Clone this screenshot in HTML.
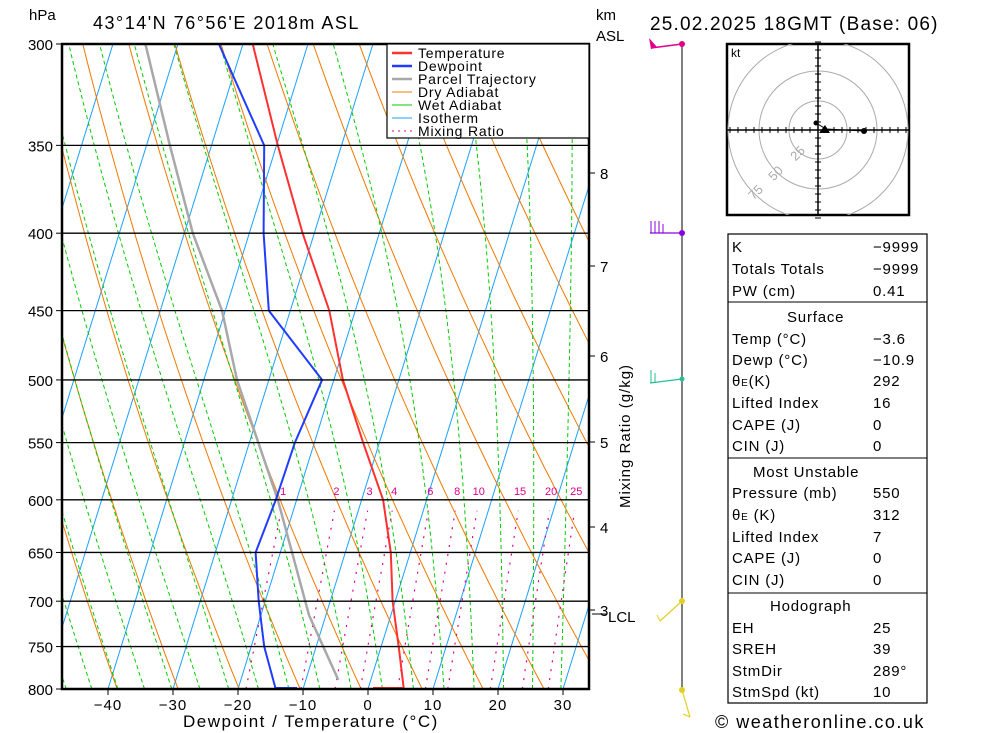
<!DOCTYPE html>
<html><head><meta charset="utf-8"><style>
body{margin:0;background:#fff;width:1000px;height:733px;overflow:hidden}
svg{display:block;font-family:"Liberation Sans",sans-serif}
</style></head><body>
<svg id="s" width="1000" height="733" viewBox="0 0 1000 733">
<defs><clipPath id="pc"><rect x="62" y="44" width="527" height="645"/></clipPath></defs>
<g id="bg" clip-path="url(#pc)"></g>
<g id="prof" clip-path="url(#pc)"></g>
<g id="ax"></g>
</svg>
<script>
// ---- data ----
const pressures=[800,750,700,650,600,550,500,450,400,350,300];
const tempC=[5.5,2.7,-0.4,-3.0,-6.7,-12.5,-18.6,-24.0,-31.8,-39.8,-48.5];
const dewC=[-14.2,-18.0,-21.0,-23.8,-23.2,-23.0,-21.8,-33.3,-37.8,-41.9,-53.7];
const parcelP=[789,715,600,500,450,400,350,300];
const parcelC=[-5.0,-12.6,-22.9,-34.9,-40.5,-48.7,-56.4,-65.0];
const pTicks=[300,350,400,450,500,550,600,650,700,750,800];
const tTicks=[-40,-30,-20,-10,0,10,20,30];
const mixRatios=[1,2,3,4,6,8,10,15,20,25];
const kmTicks=[[8,173],[7,266],[6,356],[5,442],[4,527],[3,610]];
// ---- axes functions ----
const NS='http://www.w3.org/2000/svg';
const X0=368,PX=6.5,SK=0.31,YB=689,YT=44;
function yP(p){return YT+645*Math.log(p/300)/Math.log(800/300);}
function xT(t,p){return X0+PX*t+SK*(YB-yP(p));}
function el(tag,attrs,parent,txt){const e=document.createElementNS(NS,tag);for(const k in attrs)e.setAttribute(k,attrs[k]);if(txt!==undefined)e.textContent=txt;parent.appendChild(e);return e;}
const bg=document.getElementById('bg'),pr=document.getElementById('prof'),ax=document.getElementById('ax'),S=document.getElementById('s');
function poly(pts){return pts.map(a=>a[0].toFixed(1)+','+a[1].toFixed(1)).join(' ');}
// isotherms
for(let t=-120;t<=40;t+=10){const l=el('line',{x1:xT(t,800),y1:YB,x2:xT(t,300),y2:YT,stroke:'#1aa0ff','stroke-width':1},bg);
}
// dry adiabats
for(let th=230;th<=480;th+=10){const pts=[];for(let p=800;p>=300;p-=10){const T=th*Math.pow(p/1000,0.2857)-273.15;pts.push([xT(T,p),yP(p)]);}
const l=el('polyline',{points:poly(pts),fill:'none',stroke:'#f07800','stroke-width':1},bg);
}
// wet adiabats
function es(T){return 6.112*Math.exp(17.67*T/(T+243.5));}
for(let tw=-36;tw<=40;tw+=4){let T=tw+273.15,p=1000;const pts=[];
 while(p>=300){if(p<=800)pts.push([xT(T-273.15,p),yP(p)]);
  const rs=0.622*es(T-273.15)/(p-es(T-273.15));const Lv=2.5e6,Rd=287,cp=1004;
  const dTdp=(1/p)*(Rd*T+Lv*rs)/(cp+Lv*Lv*rs*0.622/(Rd*T*T));T-=dTdp*5;p-=5;}
 const l=el('polyline',{points:poly(pts),fill:'none',stroke:'#00cc00','stroke-width':1,'stroke-dasharray':'4,3'},bg);
 }
// mixing ratio
function tdw(w,p){const e=w*p/(622+w);const a=Math.log(e/6.112);return 243.5*a/(17.67-a)+0.9+0.09*w;}
mixRatios.forEach(w=>{const pts=[];for(let p=800;p>=605;p-=10)pts.push([xT(tdw(w,p),p),yP(p)]);
 const l=el('polyline',{points:poly(pts),fill:'none',stroke:'#e0008a','stroke-width':1.2,'stroke-dasharray':'2,7'},bg);
 
 const t=el('text',{x:xT(tdw(w,600),600),y:yP(600)-5,'font-size':11,fill:'#e0008a','text-anchor':'middle'},ax,String(w));
 });
// isobars
pTicks.forEach(p=>{const l=el('line',{x1:62,x2:589,y1:yP(p),y2:yP(p),stroke:'#000','stroke-width':1.3},ax);
 
 el('line',{x1:56,x2:62,y1:yP(p),y2:yP(p),stroke:'#000'},ax);
 const t=el('text',{x:53,y:yP(p)+6,'font-size':15,'text-anchor':'end'},ax,String(p));
 });
// profiles
function prof(P,T,col,w,name){const l=el('polyline',{points:poly(P.map((p,i)=>[xT(T[i],p),yP(p)])),fill:'none',stroke:col,'stroke-width':w},pr);
 }
prof(parcelP,parcelC,'#a8a8a8',2.5,'parcel-trajectory');
prof(pressures,dewC,'#1f3cff',2,'dewpoint-line');
prof(pressures,tempC,'#ff3030',2,'temperature-line');
el('line',{x1:373,x2:xT(tempC[0],800),y1:688,y2:688,stroke:'#ff3030','stroke-width':2},pr);
el('line',{x1:xT(dewC[0],800),x2:297,y1:688,y2:688,stroke:'#1f3cff','stroke-width':2},pr);
// frame
el('rect',{x:62,y:44,width:527,height:645,fill:'none',stroke:'#000','stroke-width':2.5},ax);
el('line',{x1:589,x2:589,y1:44,y2:689,stroke:'#000','stroke-width':1.5},ax);
tTicks.forEach(t=>{const x=X0+PX*t;el('line',{x1:x,x2:x,y1:689,y2:695,stroke:'#000'},ax);
 const s=el('text',{x:x,y:710,'font-size':15,'text-anchor':'middle','letter-spacing':1},ax,(t<0?'\u2212':'')+Math.abs(t));
 });
kmTicks.forEach(k=>{el('line',{x1:589,x2:595,y1:k[1],y2:k[1],stroke:'#000'},ax);
 const s=el('text',{x:600,y:k[1]+6,'font-size':15},ax,String(k[0]));});
</script>
<svg width="1000" height="733" style="position:absolute;left:0;top:0;font-family:'Liberation Sans',sans-serif">
<text x="29" y="20" font-size="15">hPa</text>
<text x="93" y="29" font-size="18" letter-spacing="1.5">43°14'N  76°56'E  2018m  ASL</text>
<text x="596" y="20" font-size="15">km</text>
<text x="596" y="41" font-size="15">ASL</text>
<text x="650" y="30" font-size="19" letter-spacing="1.2">25.02.2025  18GMT  (Base: 06)</text>
<text x="608" y="622" font-size="15">LCL</text>
<line x1="592" y1="614" x2="606" y2="614" stroke="#000"/>
<text x="183" y="727" font-size="17" letter-spacing="1.5">Dewpoint / Temperature (°C)</text>
<text x="630" y="508" font-size="15" letter-spacing="1" transform="rotate(-90 630 508)">Mixing Ratio (g/kg)</text>
<g>
<rect x="387" y="44" width="202" height="94" fill="#fff" stroke="#000" stroke-width="1.2"/>
<g font-size="14" letter-spacing="0.8">
<line x1="392" x2="412" y1="53" y2="53" stroke="#ff3030" stroke-width="2.5"/><text x="418" y="58">Temperature</text>
<line x1="392" x2="412" y1="66" y2="66" stroke="#1f3cff" stroke-width="2.5"/><text x="418" y="71">Dewpoint</text>
<line x1="392" x2="412" y1="79" y2="79" stroke="#a8a8a8" stroke-width="2.5"/><text x="418" y="84">Parcel Trajectory</text>
<line x1="392" x2="412" y1="92" y2="92" stroke="#f07800"/><text x="418" y="97">Dry Adiabat</text>
<line x1="392" x2="412" y1="105" y2="105" stroke="#00cc00"/><text x="418" y="110">Wet Adiabat</text>
<line x1="392" x2="412" y1="118" y2="118" stroke="#1aa0ff"/><text x="418" y="123">Isotherm</text>
<line x1="392" x2="412" y1="131" y2="131" stroke="#e0008a" stroke-dasharray="2,4"/><text x="418" y="136">Mixing Ratio</text>
</g></g>
<g>
<line x1="682" y1="44" x2="682" y2="689" stroke="#000"/>
<line x1="682" y1="44" x2="651" y2="48" stroke="#e0008a" stroke-width="1.5"/><polygon points="649,38 651,49 657,47" fill="#e0008a"/><circle cx="682" cy="44" r="3" fill="#e0008a"/>
<line x1="682" y1="233" x2="650" y2="233" stroke="#8a00e0" stroke-width="1.2"/><path d="M651 233V221M655 233V221M659 233V221M663 233V224" stroke="#8a00e0"/><circle cx="682" cy="233" r="3" fill="#8a00e0"/>
<line x1="682" y1="379" x2="650" y2="383" stroke="#20c090" stroke-width="1.2"/><path d="M651 383V370M655 383V373" stroke="#20c090"/><circle cx="682" cy="379" r="2.5" fill="#20c090"/>
<line x1="682" y1="601" x2="660" y2="621" stroke="#e0d020" stroke-width="1.2"/><path d="M660 621l-3-6" stroke="#e0d020"/><circle cx="682" cy="601" r="3" fill="#e0d020"/>
<line x1="682" y1="690" x2="690" y2="717" stroke="#e0d020" stroke-width="1.2"/><path d="M690 717l-7 -3" stroke="#e0d020"/><circle cx="682" cy="690" r="3" fill="#e0d020"/>
</g>
<g>
<rect x="727" y="44" width="182" height="171" fill="#fff" stroke="#000" stroke-width="2.5"/>
<g fill="none" stroke="#aaa"><circle cx="818" cy="130" r="29"/><circle cx="818" cy="130" r="59"/><circle cx="818" cy="130" r="90" clip-path="url(#hc)"/></g>
<clipPath id="hc"><rect x="727" y="44" width="182" height="171"/></clipPath>
<line x1="727" x2="909" y1="130" y2="130" stroke="#000" stroke-width="1.5"/><line x1="818" x2="818" y1="44" y2="215" stroke="#000" stroke-width="1.5"/>
<path id="ht" stroke="#000" d=""/>
<text x="731" y="57" font-size="12">kt</text>
<g fill="#aaa" font-size="13"><text x="790" y="158" transform="rotate(-45 797 153)">25</text><text x="768" y="178" transform="rotate(-45 775 173)">50</text><text x="748" y="197" transform="rotate(-45 755 192)">75</text></g>
<polyline points="816,123 826,129 864,131" fill="none" stroke="#000"/><circle cx="816" cy="123" r="2.5"/><circle cx="864" cy="131" r="3"/><polygon points="819,133 825,125 830,133" fill="#000"/>
</g>
<g font-size="15" letter-spacing="0.8">
<rect x="728" y="234" width="199" height="469" fill="none" stroke="#000" stroke-width="1.2"/>
<line x1="728" x2="927" y1="302" y2="302" stroke="#000"/><line x1="728" x2="927" y1="458" y2="458" stroke="#000"/><line x1="728" x2="927" y1="593" y2="593" stroke="#000"/>
<text x="732" y="252">K</text><text x="873" y="252">−9999</text>
<text x="732" y="274">Totals Totals</text><text x="873" y="274">−9999</text>
<text x="732" y="296">PW (cm)</text><text x="873" y="296">0.41</text>
<text x="787" y="322">Surface</text>
<text x="732" y="344">Temp (°C)</text><text x="873" y="344">−3.6</text>
<text x="732" y="365">Dewp (°C)</text><text x="873" y="365">−10.9</text>
<text x="732" y="386">θ<tspan font-size="10">E</tspan>(K)</text><text x="873" y="386">292</text>
<text x="732" y="408">Lifted Index</text><text x="873" y="408">16</text>
<text x="732" y="430">CAPE (J)</text><text x="873" y="430">0</text>
<text x="732" y="451">CIN (J)</text><text x="873" y="451">0</text>
<text x="753" y="477">Most Unstable</text>
<text x="732" y="498">Pressure (mb)</text><text x="873" y="498">550</text>
<text x="732" y="520">θ<tspan font-size="10">E</tspan> (K)</text><text x="873" y="520">312</text>
<text x="732" y="542">Lifted Index</text><text x="873" y="542">7</text>
<text x="732" y="563">CAPE (J)</text><text x="873" y="563">0</text>
<text x="732" y="585">CIN (J)</text><text x="873" y="585">0</text>
<text x="770" y="611">Hodograph</text>
<text x="732" y="633">EH</text><text x="873" y="633">25</text>
<text x="732" y="654">SREH</text><text x="873" y="654">39</text>
<text x="732" y="676">StmDir</text><text x="873" y="676">289°</text>
<text x="732" y="697">StmSpd (kt)</text><text x="873" y="697">10</text>
</g>
<text x="715" y="728" font-size="18" letter-spacing="1.5">© weatheronline.co.uk</text>
</svg>
<script>
let d='';for(let i=-11;i<=11;i++){if(i==0)continue;const x=818+i*8,y=130+i*8;d+=`M${x} 127V133M815 ${y}H821`;}
document.getElementById('ht').setAttribute('d',d);
</script>
</body></html>
